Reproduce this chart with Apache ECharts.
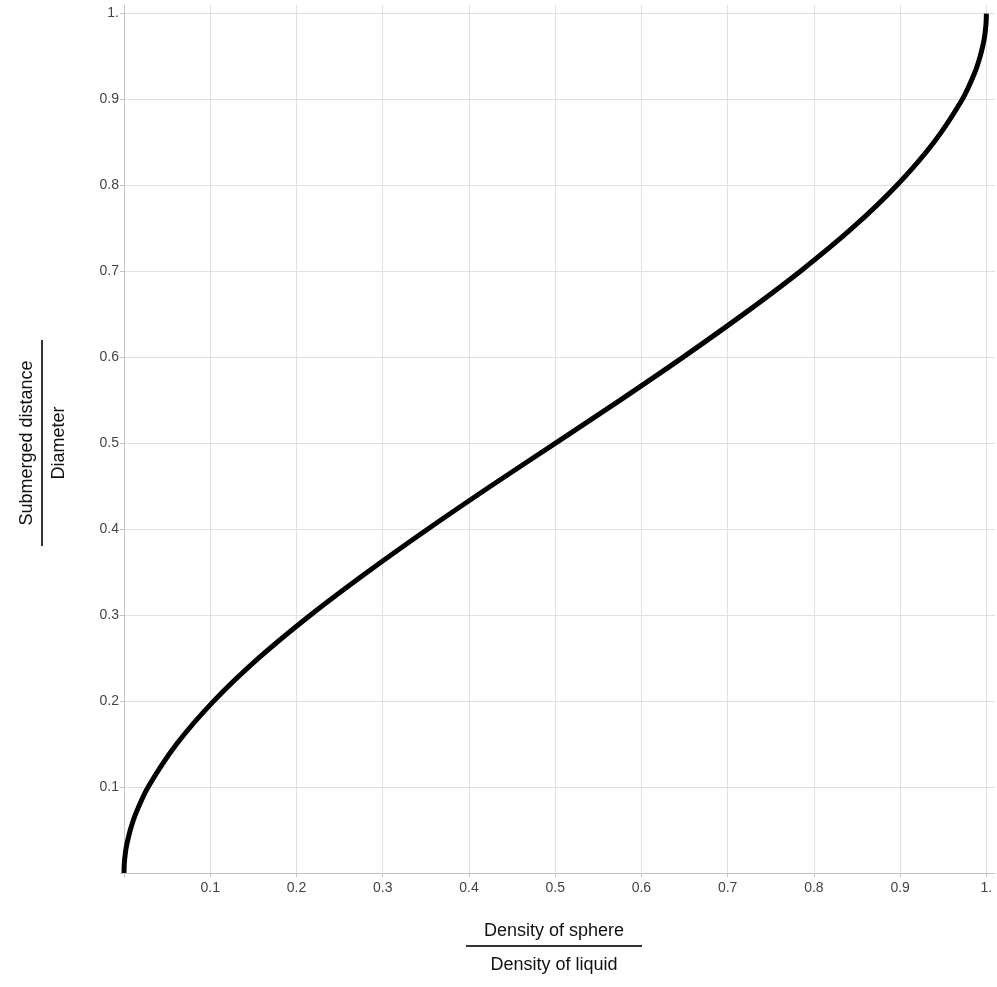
<!DOCTYPE html>
<html>
<head>
<meta charset="utf-8">
<script src="https://cdn.jsdelivr.net/npm/echarts@6/dist/echarts.min.js"></script>
<style>
  html, body { margin: 0; padding: 0; background: #ffffff; }
  #chart { width: 997px; height: 987px; }
</style>
</head>
<body>
<div id="chart"></div>
<script>
// density ratio (x) against submerged distance / diameter (y)
const densityRatio = [
  0, 0.0003, 0.0012, 0.0026, 0.0073, 0.014, 0.028, 0.061, 0.104, 0.156,
  0.216, 0.282, 0.352, 0.425, 0.5, 0.575, 0.648, 0.718, 0.784, 0.844,
  0.896, 0.939, 0.972, 0.986, 0.9927, 0.9974, 0.9988, 0.9997, 1,
];
const submergedRatio = [
  0, 0.01, 0.02, 0.03, 0.05, 0.07, 0.1, 0.15, 0.2, 0.25,
  0.3, 0.35, 0.4, 0.45, 0.5, 0.55, 0.6, 0.65, 0.7, 0.75,
  0.8, 0.85, 0.9, 0.93, 0.95, 0.97, 0.98, 0.99, 1,
];
const tickValues = [0, 0.1, 0.2, 0.3, 0.4, 0.5, 0.6, 0.7, 0.8, 0.9, 1];
const labelValues = [0.1, 0.2, 0.3, 0.4, 0.5, 0.6, 0.7, 0.8, 0.9, 1];

const xTitle = ['Density of sphere', 'Density of liquid'];
const yTitle = ['Submerged distance', 'Diameter'];

const chart = echarts.init(document.getElementById('chart'));

function formatTick(value) {
  return value === 1 ? '1.' : value.toFixed(1);
}

function axisBase() {
  return {
    type: 'value',
    min: 0,
    max: 1.01,
    axisLine: { lineStyle: { color: '#c4c4c4', width: 1 } },
    axisTick: {
      show: true,
      customValues: tickValues,
      length: 4,
      lineStyle: { color: '#c4c4c4' },
    },
    axisLabel: {
      customValues: labelValues,
      formatter: formatTick,
      color: '#444444',
      fontSize: 14,
      fontFamily: 'Helvetica, Arial, sans-serif',
    },
    splitLine: { show: true, lineStyle: { color: '#e0e0e0', width: 1 } },
  };
}

const xAxis = axisBase();
xAxis.axisLabel.margin = 8;
const yAxis = axisBase();
yAxis.axisLabel.margin = 5;

chart.setOption({
  animation: false,
  backgroundColor: '#ffffff',
  grid: { left: 124, right: 2, top: 5, bottom: 114, containLabel: false },
  xAxis: xAxis,
  yAxis: yAxis,
  series: [
    {
      type: 'line',
      data: densityRatio.map((x, i) => [x, submergedRatio[i]]),
      showSymbol: false,
      smooth: 0.3,
      lineStyle: { color: '#000000', width: 5 },
    },
  ],
  graphic: [
    {
      type: 'group',
      x: 554,
      y: 946,
      children: [
        {
          type: 'text',
          style: {
            text: xTitle[0], x: 0, y: -15, align: 'center', verticalAlign: 'middle',
            font: '18px Helvetica, Arial, sans-serif', fill: '#111111',
          },
        },
        {
          type: 'line',
          shape: { x1: -88, y1: 0, x2: 88, y2: 0 },
          style: { stroke: '#333333', lineWidth: 2 },
        },
        {
          type: 'text',
          style: {
            text: xTitle[1], x: 0, y: 19, align: 'center', verticalAlign: 'middle',
            font: '18px Helvetica, Arial, sans-serif', fill: '#111111',
          },
        },
      ],
    },
    {
      type: 'group',
      x: 42,
      y: 443,
      rotation: Math.PI / 2,
      children: [
        {
          type: 'text',
          style: {
            text: yTitle[0], x: 0, y: -15, align: 'center', verticalAlign: 'middle',
            font: '18px Helvetica, Arial, sans-serif', fill: '#111111',
          },
        },
        {
          type: 'line',
          shape: { x1: -103, y1: 0, x2: 103, y2: 0 },
          style: { stroke: '#333333', lineWidth: 2 },
        },
        {
          type: 'text',
          style: {
            text: yTitle[1], x: 0, y: 17, align: 'center', verticalAlign: 'middle',
            font: '18px Helvetica, Arial, sans-serif', fill: '#111111',
          },
        },
      ],
    },
  ],
});
</script>
</body>
</html>
